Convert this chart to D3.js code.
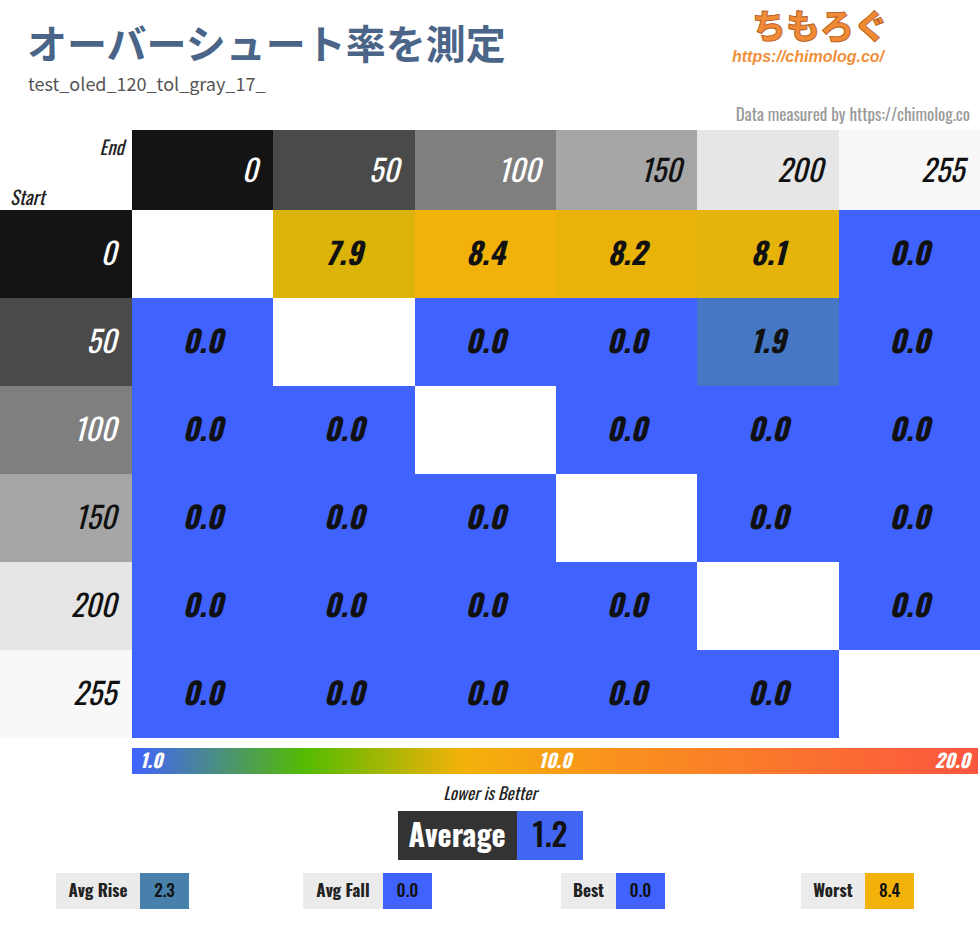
<!DOCTYPE html>
<html>
  <head>
    <meta charset="utf-8">
    <title>Overshoot heatmap</title>
    <script src="https://d3js.org/d3.v7.min.js"></script>
    <style type="text/css">
      body { margin: 0; background: #ffffff; }
      .cond { font-family: 'Oswald', 'Liberation Sans Narrow', 'DejaVu Sans Condensed', 'Roboto Condensed', sans-serif; font-stretch: condensed; }
    </style>
  </head>
  <body>
    <script>
        // Gray levels (start rows / end columns) and their swatch colours
        var levels = ["0", "50", "100", "150", "200", "255"];
        var levelFill = ["#141414", "#4a4a4a", "#7f7f7f", "#a6a6a6", "#e6e6e6", "#f8f8f8"];
        var levelText = ["#ffffff", "#ffffff", "#ffffff", "#111111", "#111111", "#111111"];

        // Overshoot rate, row = start level, column = end level (null on diagonal)
        var row0   = [null, 7.9, 8.4, 8.2, 8.1, 0.0];
        var row50  = [0.0, null, 0.0, 0.0, 1.9, 0.0];
        var row100 = [0.0, 0.0, null, 0.0, 0.0, 0.0];
        var row150 = [0.0, 0.0, 0.0, null, 0.0, 0.0];
        var row200 = [0.0, 0.0, 0.0, 0.0, null, 0.0];
        var row255 = [0.0, 0.0, 0.0, 0.0, 0.0, null];
        var overshoot = [row0, row50, row100, row150, row200, row255];

        // Colour scale stops and bar tick labels
        var scaleStops = [1.0, 4.9, 8.4, 12.0, 20.0];
        var scaleColors = ["#4062ff", "#55bb00", "#f3b20a", "#fa901e", "#fb5540"];
        var barTicks = [1.0, 10.0, 20.0];

        // Summary values
        var average = 1.2;
        var summaryLabels = ["Avg Rise", "Avg Fall", "Best", "Worst"];
        var summaryValues = [2.3, 0.0, 0.0, 8.4];

        var width = 980, height = 925;
        var gridLeft = 132, gridTop = 130, headH = 80;
        var gridBottom = 738;

        var svg = d3.select("body").append("svg")
                    .attr("width", width)
                    .attr("height", height)
                    .attr("shape-rendering", "crispEdges");

        var color = d3.scaleLinear()
                      .domain(scaleStops)
                      .range(scaleColors)
                      .clamp(true);

        var xScale = d3.scaleBand().domain(levels).range([gridLeft, width]);
        var yScale = d3.scaleBand().domain(levels).range([gridTop + headH, gridBottom]);

        // Title block
        svg.append("text")
           .attr("x", 27).attr("y", 59)
           .attr("font-family", "'Noto Sans CJK JP', sans-serif")
           .attr("font-weight", "bold")
           .attr("font-size", "40px")
           .attr("fill", "#4a6588")
           .text("オーバーシュート率を測定");

        svg.append("text")
           .attr("x", 28).attr("y", 91)
           .attr("font-family", "'Noto Sans CJK JP', 'Noto Sans', sans-serif")
           .attr("font-size", "18px")
           .attr("fill", "#555555")
           .text("test_oled_120_tol_gray_17_");

        // Logo text
        svg.append("text")
           .attr("x", 752).attr("y", 39)
           .attr("font-family", "'Noto Sans CJK JP', sans-serif")
           .attr("font-weight", "900")
           .attr("font-size", "34px")
           .attr("fill", "#f08a35")
           .attr("stroke", "#b0581c")
           .attr("stroke-width", 0.8)
           .text("ちもろぐ");

        svg.append("text")
           .attr("x", 732).attr("y", 62)
           .attr("font-family", "'Liberation Sans', Arial, sans-serif")
           .attr("font-weight", "bold")
           .attr("font-style", "italic")
           .attr("font-size", "16px")
           .attr("fill", "#f0903a")
           .text("https://chimolog.co/");

        svg.append("text")
           .attr("class", "cond")
           .attr("x", 970).attr("y", 121)
           .attr("text-anchor", "end")
           .attr("font-size", "17px")
           .attr("fill", "#9a9a9a")
           .text("Data measured by https://chimolog.co");

        // Corner labels
        svg.append("text").attr("class", "cond")
           .attr("x", 124).attr("y", 155)
           .attr("text-anchor", "end")
           .attr("font-style", "italic")
           .attr("font-size", "19px")
           .attr("fill", "#222")
           .text("End");

        svg.append("text").attr("class", "cond")
           .attr("x", 10).attr("y", 205)
           .attr("font-style", "italic")
           .attr("font-size", "19px")
           .attr("fill", "#222")
           .text("Start");

        // Column headers
        var colHead = svg.append("g").selectAll("g")
                         .data(levels)
                         .enter().append("g");

        colHead.append("rect")
               .attr("x", function(d) { return xScale(d); })
               .attr("y", gridTop)
               .attr("width", xScale.bandwidth())
               .attr("height", headH)
               .attr("fill", function(d, i) { return levelFill[i]; });

        colHead.append("text")
               .attr("class", "cond")
               .attr("x", function(d) { return xScale(d) + xScale.bandwidth() - 16; })
               .attr("y", gridTop + 52)
               .attr("text-anchor", "end")
               .attr("font-style", "italic")
               .attr("font-size", "30px")
               .attr("fill", function(d, i) { return levelText[i]; })
               .text(function(d) { return d; });

        // Row headers
        var rowHead = svg.append("g").selectAll("g")
                         .data(levels)
                         .enter().append("g");

        rowHead.append("rect")
               .attr("x", 0)
               .attr("y", function(d) { return yScale(d); })
               .attr("width", gridLeft)
               .attr("height", yScale.bandwidth())
               .attr("fill", function(d, i) { return levelFill[i]; });

        rowHead.append("text")
               .attr("class", "cond")
               .attr("x", gridLeft - 16)
               .attr("y", function(d) { return yScale(d) + yScale.bandwidth() / 2 + 11; })
               .attr("text-anchor", "end")
               .attr("font-style", "italic")
               .attr("font-size", "30px")
               .attr("fill", function(d, i) { return levelText[i]; })
               .text(function(d) { return d; });

        // Heatmap cells
        var cells = [];
        overshoot.forEach(function(row, r) {
            row.forEach(function(v, c) {
                cells.push({start: levels[r], end: levels[c], value: v});
            });
        });

        var cell = svg.append("g").selectAll("g")
                      .data(cells)
                      .enter().append("g");

        cell.append("rect")
            .attr("x", function(d) { return xScale(d.end); })
            .attr("y", function(d) { return yScale(d.start); })
            .attr("width", xScale.bandwidth())
            .attr("height", yScale.bandwidth())
            .attr("fill", function(d) { return d.value === null ? "#ffffff" : color(d.value); });

        cell.filter(function(d) { return d.value !== null; })
            .append("text")
            .attr("class", "cond")
            .attr("x", function(d) { return xScale(d.end) + xScale.bandwidth() / 2; })
            .attr("y", function(d) { return yScale(d.start) + yScale.bandwidth() / 2 + 11; })
            .attr("text-anchor", "middle")
            .attr("font-style", "italic")
            .attr("font-weight", "bold")
            .attr("font-size", "30px")
            .attr("fill", "#111111")
            .text(function(d) { return d.value.toFixed(1); });

        // Colour bar
        var barX = d3.scaleLinear().domain([1, 20]).range([132, 978]);
        var grad = svg.append("defs").append("linearGradient")
                      .attr("id", "bar")
                      .attr("x1", "0%").attr("x2", "100%");
        grad.selectAll("stop")
            .data(scaleStops)
            .enter().append("stop")
            .attr("offset", function(d) { return ((barX(d) - 132) / 846 * 100) + "%"; })
            .attr("stop-color", function(d) { return color(d); });

        svg.append("rect")
           .attr("x", barX(1)).attr("y", 748)
           .attr("width", barX(20) - barX(1)).attr("height", 26)
           .attr("fill", "url(#bar)");

        svg.selectAll(".barTick")
           .data(barTicks)
           .enter().append("text")
           .attr("class", "cond barTick")
           .attr("x", function(d, i) { return i === 0 ? barX(d) + 8 : (i === barTicks.length - 1 ? barX(d) - 8 : (barX(1) + barX(20)) / 2); })
           .attr("y", 768)
           .attr("text-anchor", function(d, i) { return i === 0 ? "start" : (i === barTicks.length - 1 ? "end" : "middle"); })
           .attr("font-style", "italic")
           .attr("font-weight", "bold")
           .attr("font-size", "19px")
           .attr("fill", "#ffffff")
           .text(function(d) { return d.toFixed(1); });

        svg.append("text").attr("class", "cond")
           .attr("x", 490).attr("y", 800)
           .attr("text-anchor", "middle")
           .attr("font-style", "italic")
           .attr("font-size", "17px")
           .attr("fill", "#222")
           .text("Lower is Better");

        // Average box
        svg.append("rect").attr("x", 398).attr("y", 811).attr("width", 119).attr("height", 49).attr("fill", "#333333");
        svg.append("rect").attr("x", 517).attr("y", 811).attr("width", 66).attr("height", 49).attr("fill", color(average));
        svg.append("text").attr("class", "cond")
           .attr("x", 457).attr("y", 847)
           .attr("text-anchor", "middle")
           .attr("font-weight", "bold")
           .attr("font-size", "30px")
           .attr("fill", "#ffffff")
           .text("Average");
        svg.append("text").attr("class", "cond")
           .attr("x", 550).attr("y", 847)
           .attr("text-anchor", "middle")
           .attr("font-weight", "500")
           .attr("font-size", "32px")
           .attr("fill", "#111111")
           .text(average.toFixed(1));

        // Summary boxes: label box start, label width, value width
        var boxX = [56, 303, 561, 801];
        var boxLabelW = [84, 80, 55, 64];
        var boxValueW = 49;

        var box = svg.append("g").selectAll("g")
                     .data(summaryLabels)
                     .enter().append("g");

        box.append("rect")
           .attr("x", function(d, i) { return boxX[i]; })
           .attr("y", 873).attr("width", function(d, i) { return boxLabelW[i]; }).attr("height", 36)
           .attr("fill", "#ebebeb");
        box.append("rect")
           .attr("x", function(d, i) { return boxX[i] + boxLabelW[i]; })
           .attr("y", 873).attr("width", boxValueW).attr("height", 36)
           .attr("fill", function(d, i) { return color(summaryValues[i]); });
        box.append("text").attr("class", "cond")
           .attr("x", function(d, i) { return boxX[i] + boxLabelW[i] / 2; })
           .attr("y", 897)
           .attr("text-anchor", "middle")
           .attr("font-weight", "bold")
           .attr("font-size", "17px")
           .attr("fill", "#222")
           .text(function(d) { return d; });
        box.append("text").attr("class", "cond")
           .attr("x", function(d, i) { return boxX[i] + boxLabelW[i] + boxValueW / 2; })
           .attr("y", 897)
           .attr("text-anchor", "middle")
           .attr("font-weight", "500")
           .attr("font-size", "17px")
           .attr("fill", "#111")
           .text(function(d, i) { return summaryValues[i].toFixed(1); });
    </script>
  </body>
</html>
